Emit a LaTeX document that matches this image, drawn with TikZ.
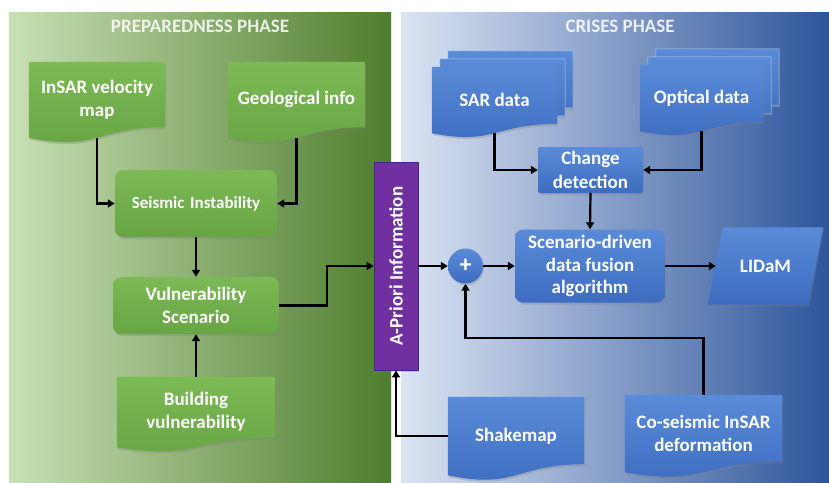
\documentclass[tikz,border=0pt]{standalone}
\usepackage{fontspec}
\setmainfont{Carlito}
\usepackage{graphicx}
\usetikzlibrary{arrows.meta,calc,shadows}

\definecolor{gLight}{HTML}{C8E0B5}
\definecolor{gMid}{HTML}{A0C487}
\definecolor{gDark}{HTML}{4F7D2D}
\definecolor{bLight}{HTML}{DCE4F3}
\definecolor{bMid}{HTML}{A5B9E1}
\definecolor{bDark}{HTML}{2D559B}
\definecolor{nGreenT}{HTML}{7CBA55}
\definecolor{nGreenB}{HTML}{67A443}
\definecolor{nBlueT}{HTML}{5A8BD8}
\definecolor{nBlueB}{HTML}{3D6CC0}
\definecolor{prpl}{HTML}{7030A0}
\definecolor{prplEdge}{HTML}{3B2A8C}

\pgfdeclarelayer{panel}
\pgfdeclarelayer{shapes}
\pgfsetlayers{panel,shapes,main}

% document symbol (flat top, wavy bottom) behind the node #1, shifted by (#3,#4)
\newcommand\docshape[4]{%
  \path[#2] let \p1=($(#1.north west)+(#3,#4)$), \p2=($(#1.south east)+(#3,#4)$),
    \n1={(\y1-\y2)/0.933} in
    (\x1,\y1) -- (\x2,\y1) -- (\x2,{\y1-0.802*\n1})
    .. controls ({0.5*\x1+0.5*\x2},{\y1-0.802*\n1}) and ({0.5*\x1+0.5*\x2},{\y1-1.107*\n1})
    .. (\x1,{\y1-0.934*\n1}) -- cycle;}

\tikzset{
  lbl/.style={font=\fontsize{19}{23}\selectfont\bfseries, text=white, align=center, inner sep=0pt},
  shade/.style={drop shadow={opacity=0.3, shadow xshift=1pt, shadow yshift=-2pt}},
  greenfill/.style={shade, top color=nGreenT, bottom color=nGreenB},
  bluefill/.style={shade, top color=nBlueT, bottom color=nBlueB},
  bluelayer/.style={bluefill, draw=nBlueT!45!white, line width=0.5pt},
  gbox/.style={lbl, greenfill, rounded corners=8pt},
  bbox/.style={lbl, bluefill, rounded corners=8pt},
  doctext/.style={lbl},
  title/.style={font=\fontsize{19}{23}\selectfont\bfseries, text=white, text opacity=0.85},
  arr/.style={line width=2.2pt, -{Triangle[length=7pt,width=8pt]}},
}

\begin{document}
\begin{tikzpicture}[x=1pt,y=-1pt]
\useasboundingbox (0,0) rectangle (829,482);

% ---- text nodes (geometry of every block) ----
\node[title] (prep) at (200,26) {PREPAREDNESS PHASE};
\node[title] (cris) at (620,26) {CRISES PHASE};

\node[doctext, minimum width=136pt, minimum height=75.6pt] (insar) at (97,99.8) {InSAR velocity\\map};
\node[doctext, minimum width=137pt, minimum height=75.6pt] (geo) at (296.5,99.8) {Geological info};
\node[gbox, minimum width=162pt, minimum height=67pt, font=\fontsize{17}{21}\selectfont\bfseries] (seis) at (196,203.5) {Seismic\,\,Instability};
\node[gbox, minimum width=166pt, minimum height=57pt] (vuln) at (196,305.5) {Vulnerability\\Scenario};
\node[doctext, minimum width=158pt, minimum height=70pt] (build) at (196,412) {Building\\vulnerability};

\node[lbl, fill=prpl, draw=prplEdge, line width=0.8pt, shade, minimum width=44pt, minimum height=208pt] (apriori) at (396,266) {\rotatebox{90}{A-Priori Information}};

\node[doctext, minimum width=125pt, minimum height=66pt] (sar) at (494.5,100) {SAR data};
\node[doctext, minimum width=123pt, minimum height=66pt] (opt) at (701.5,98) {Optical data};
\node[lbl, bluefill, rounded corners=2pt, minimum width=105pt, minimum height=46pt, font=\fontsize{19}{24}\selectfont\bfseries] (change) at (590.5,170) {Change\\detection};
\node[bbox, minimum width=150pt, minimum height=73pt, font=\fontsize{19}{22.5}\selectfont\bfseries] (fusion) at (590,266) {Scenario-driven\\data fusion\\algorithm};
\node[lbl, circle, bluefill, minimum size=35pt, font=\fontsize{24}{24}\selectfont\bfseries] (plus) at (465.5,266) {+};
\node[doctext, minimum width=115pt, minimum height=77pt] (lidam) at (765.5,266) {LIDaM};
\node[doctext, minimum width=136pt, minimum height=78pt] (shake) at (516,436) {Shakemap};
\node[doctext, minimum width=157pt, minimum height=77pt] (coseis) at (703.5,433.5) {Co-seismic InSAR\\deformation};

% ---- phase panels ----
\begin{pgfonlayer}{panel}
  \fill[white] (0,0) rectangle (829,482);
  \path[left color=gLight, middle color=gMid, right color=gDark] (9,12) rectangle (391,482);
  \path[left color=bLight, middle color=bMid, right color=bDark] (401,12) rectangle (829,482);
\end{pgfonlayer}

% ---- block outlines ----
\begin{pgfonlayer}{shapes}
  \docshape{insar}{greenfill}{0}{0}
  \docshape{geo}{greenfill}{0}{0}
  \docshape{build}{greenfill}{0}{0}
  \docshape{sar}{bluelayer}{16}{-16}
  \docshape{sar}{bluelayer}{8}{-8}
  \docshape{sar}{bluefill}{0}{0}
  \docshape{opt}{bluelayer}{16}{-16}
  \docshape{opt}{bluelayer}{8}{-8}
  \docshape{opt}{bluefill}{0}{0}
  \docshape{shake}{bluefill}{0}{0}
  \docshape{coseis}{bluefill}{0}{0}
  \path[bluefill] ($(lidam.north west)+(15,0)$) -- (lidam.north east)
     -- ($(lidam.south east)+(-15,0)$) -- (lidam.south west) -- cycle;
\end{pgfonlayer}

% ---- connectors ----
\draw[arr] (insar.south) |- (seis.west);
\draw[arr] (geo.south) |- (seis.east);
\draw[arr] (seis.south) -- (vuln.north);
\draw[arr] (build.north) -- (vuln.south);
\draw[arr] (vuln.east) -- ++(48,0) |- (apriori.west);
\draw[arr] (apriori.east) -- (plus.west);
\draw[arr] (plus.east) -- (fusion.west);
\draw[arr] (fusion.east) -- ($(lidam.west)+(8,0)$);
\draw[arr] (sar.south) |- (change.west);
\draw[arr] (opt.south) |- (change.east);
\draw[arr] (change.south) -- (fusion.north);
\draw[arr] (coseis.north) -- ++(0,-57) -| (plus.south);
\draw[arr] (shake.west) -| (apriori.south);
\end{tikzpicture}
\end{document}
